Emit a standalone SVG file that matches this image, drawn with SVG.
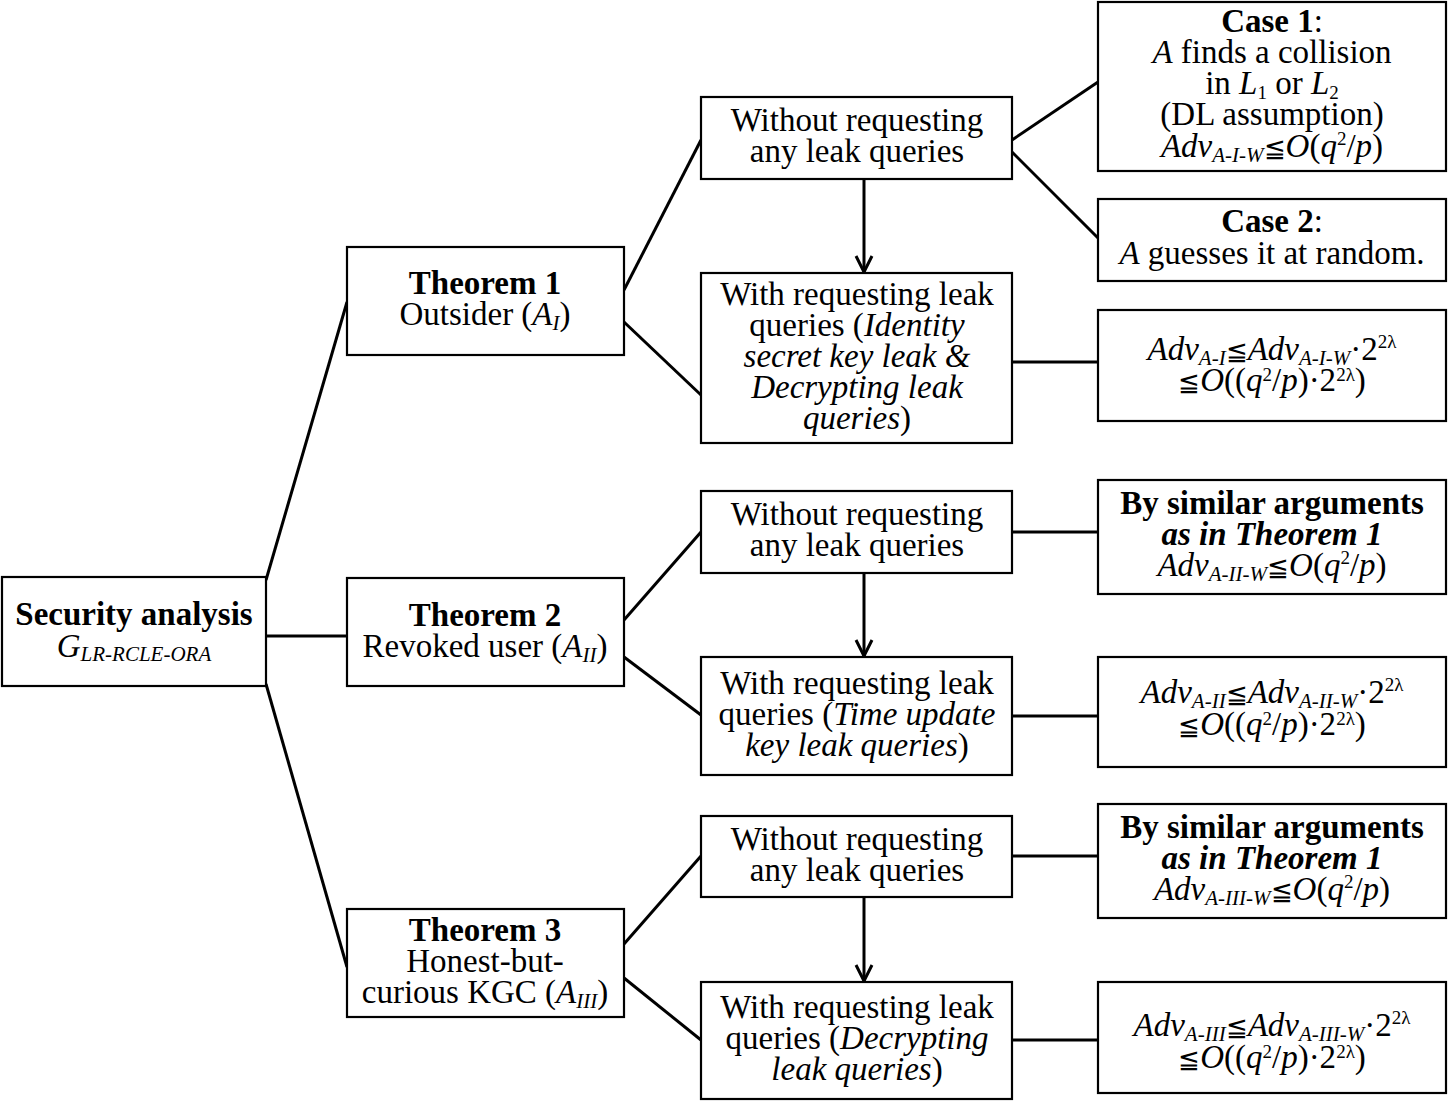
<svg xmlns="http://www.w3.org/2000/svg" width="1449" height="1101" viewBox="0 0 1449 1101">
<style>
.box{fill:#fff;stroke:#000;stroke-width:2.2}
.ln{stroke:#000;stroke-width:3;fill:none}
text{font-family:"Liberation Serif","Times New Roman",serif;font-size:33px;fill:#000;text-anchor:middle}
.b{font-weight:bold}
.i{font-style:italic}
.s{font-size:21px;font-style:italic}
.su{font-size:19px}
.m{font-family:"DejaVu Serif","Liberation Serif",serif;font-size:26px}
</style>
<defs>
<marker id="arr" markerUnits="userSpaceOnUse" markerWidth="22" markerHeight="22" viewBox="-19 -11 22 22" refX="0" refY="0" orient="auto">
<path d="M-16,-8 L0,0 L-16,8" fill="none" stroke="#000" stroke-width="3"/>
</marker>
</defs>
<rect width="1449" height="1101" fill="#fff"/>
<g id="connectors">
<line class="ln" x1="266" y1="580" x2="347" y2="302"/>
<line class="ln" x1="266" y1="636" x2="347" y2="636"/>
<line class="ln" x1="266" y1="684" x2="347" y2="967"/>
<line class="ln" x1="624" y1="290" x2="701" y2="140"/>
<line class="ln" x1="624" y1="322" x2="701" y2="395"/>
<line class="ln" x1="624" y1="620" x2="701" y2="532"/>
<line class="ln" x1="624" y1="657" x2="701" y2="715"/>
<line class="ln" x1="624" y1="944" x2="701" y2="856"/>
<line class="ln" x1="624" y1="978" x2="701" y2="1040"/>
<line class="ln" x1="1012" y1="140" x2="1098" y2="82"/>
<line class="ln" x1="1012" y1="152" x2="1098" y2="238"/>
<line class="ln" x1="1012" y1="362" x2="1098" y2="362"/>
<line class="ln" x1="1012" y1="532" x2="1098" y2="532"/>
<line class="ln" x1="1012" y1="716" x2="1098" y2="716"/>
<line class="ln" x1="1012" y1="856" x2="1098" y2="856"/>
<line class="ln" x1="1012" y1="1040" x2="1098" y2="1040"/>
<line class="ln" x1="864" y1="179" x2="864" y2="272" marker-end="url(#arr)"/>
<line class="ln" x1="864" y1="573" x2="864" y2="656" marker-end="url(#arr)"/>
<line class="ln" x1="864" y1="897" x2="864" y2="981" marker-end="url(#arr)"/>
</g>
<g id="root">
<rect class="box" x="2" y="577" width="264" height="109"/>
<text x="134" y="625" class="b">Security analysis</text>
<text x="134" y="657"><tspan class="i">G</tspan><tspan class="s" dy="4">LR-RCLE-ORA</tspan></text>
</g>
<g id="t1">
<rect class="box" x="347" y="247" width="277" height="108"/>
<text x="485" y="294" class="b">Theorem 1</text>
<text x="485" y="325">Outsider (<tspan class="i">A</tspan><tspan class="s" dy="5">I</tspan><tspan dy="-5">)</tspan></text>
</g>
<g id="t2">
<rect class="box" x="347" y="578" width="277" height="108"/>
<text x="485" y="626" class="b">Theorem 2</text>
<text x="485" y="657">Revoked user (<tspan class="i">A</tspan><tspan class="s" dy="5">II</tspan><tspan dy="-5">)</tspan></text>
</g>
<g id="t3">
<rect class="box" x="347" y="909" width="277" height="108"/>
<text x="485" y="941" class="b">Theorem 3</text>
<text x="485" y="972">Honest-but-</text>
<text x="485" y="1003">curious KGC (<tspan class="i">A</tspan><tspan class="s" dy="5">III</tspan><tspan dy="-5">)</tspan></text>
</g>
<g id="w1">
<rect class="box" x="701" y="97" width="311" height="82"/>
<text x="857" y="131">Without requesting</text>
<text x="857" y="162">any leak queries</text>
</g>
<g id="r1">
<rect class="box" x="701" y="273" width="311" height="170"/>
<text x="857" y="305">With requesting leak</text>
<text x="857" y="336">queries (<tspan class="i">Identity</tspan></text>
<text x="857" y="367" class="i">secret key leak &amp;</text>
<text x="857" y="398" class="i">Decrypting leak</text>
<text x="857" y="429"><tspan class="i">queries</tspan>)</text>
</g>
<g id="w2">
<rect class="box" x="701" y="491" width="311" height="82"/>
<text x="857" y="525">Without requesting</text>
<text x="857" y="556">any leak queries</text>
</g>
<g id="r2">
<rect class="box" x="701" y="657" width="311" height="118"/>
<text x="857" y="694">With requesting leak</text>
<text x="857" y="725">queries (<tspan class="i">Time update</tspan></text>
<text x="857" y="756"><tspan class="i">key leak queries</tspan>)</text>
</g>
<g id="w3">
<rect class="box" x="701" y="816" width="311" height="81"/>
<text x="857" y="850">Without requesting</text>
<text x="857" y="881">any leak queries</text>
</g>
<g id="r3">
<rect class="box" x="701" y="982" width="311" height="117"/>
<text x="857" y="1018">With requesting leak</text>
<text x="857" y="1049">queries (<tspan class="i">Decrypting</tspan></text>
<text x="857" y="1080"><tspan class="i">leak queries</tspan>)</text>
</g>
<g id="case1">
<rect class="box" x="1098" y="2" width="348" height="169"/>
<text x="1272" y="32"><tspan class="b">Case 1</tspan>:</text>
<text x="1272" y="63"><tspan class="i">A</tspan> finds a collision</text>
<text x="1272" y="94">in <tspan class="i">L</tspan><tspan class="su" dy="5">1</tspan><tspan dy="-5"> or </tspan><tspan class="i">L</tspan><tspan class="su" dy="5">2</tspan></text>
<text x="1272" y="125">(DL assumption)</text>
<text x="1272" y="157"><tspan class="i">Adv</tspan><tspan class="s" dy="5">A-I-W</tspan><tspan class="m" dy="-5">≦</tspan><tspan class="i">O</tspan>(<tspan class="i">q</tspan><tspan class="su" dy="-12">2</tspan><tspan dy="12">/</tspan><tspan class="i">p</tspan>)</text>
</g>
<g id="case2">
<rect class="box" x="1098" y="199" width="348" height="82"/>
<text x="1272" y="232"><tspan class="b">Case 2</tspan>:</text>
<text x="1272" y="264"><tspan class="i">A</tspan> guesses it at random.</text>
</g>
<g id="f1">
<rect class="box" x="1098" y="310" width="348" height="111"/>
<text x="1272" y="360"><tspan class="i">Adv</tspan><tspan class="s" dy="5">A-I</tspan><tspan class="m" dy="-5">≦</tspan><tspan class="i">Adv</tspan><tspan class="s" dy="5">A-I-W</tspan><tspan dy="-5">·2</tspan><tspan class="su" dy="-12">2λ</tspan></text>
<text x="1272" y="391"><tspan class="m">≦</tspan><tspan class="i">O</tspan>((<tspan class="i">q</tspan><tspan class="su" dy="-10">2</tspan><tspan dy="10">/</tspan><tspan class="i">p</tspan>)·2<tspan class="su" dy="-10">2λ</tspan><tspan dy="10">)</tspan></text>
</g>
<g id="s1">
<rect class="box" x="1098" y="480" width="348" height="114"/>
<text x="1272" y="514" class="b">By similar arguments</text>
<text x="1272" y="545" class="b i">as in Theorem 1</text>
<text x="1272" y="576"><tspan class="i">Adv</tspan><tspan class="s" dy="5">A-II-W</tspan><tspan class="m" dy="-5">≦</tspan><tspan class="i">O</tspan>(<tspan class="i">q</tspan><tspan class="su" dy="-12">2</tspan><tspan dy="12">/</tspan><tspan class="i">p</tspan>)</text>
</g>
<g id="f2">
<rect class="box" x="1098" y="657" width="348" height="110"/>
<text x="1272" y="703"><tspan class="i">Adv</tspan><tspan class="s" dy="5">A-II</tspan><tspan class="m" dy="-5">≦</tspan><tspan class="i">Adv</tspan><tspan class="s" dy="5">A-II-W</tspan><tspan dy="-5">·2</tspan><tspan class="su" dy="-12">2λ</tspan></text>
<text x="1272" y="735"><tspan class="m">≦</tspan><tspan class="i">O</tspan>((<tspan class="i">q</tspan><tspan class="su" dy="-10">2</tspan><tspan dy="10">/</tspan><tspan class="i">p</tspan>)·2<tspan class="su" dy="-10">2λ</tspan><tspan dy="10">)</tspan></text>
</g>
<g id="s2">
<rect class="box" x="1098" y="804" width="348" height="114"/>
<text x="1272" y="838" class="b">By similar arguments</text>
<text x="1272" y="869" class="b i">as in Theorem 1</text>
<text x="1272" y="900"><tspan class="i">Adv</tspan><tspan class="s" dy="5">A-III-W</tspan><tspan class="m" dy="-5">≦</tspan><tspan class="i">O</tspan>(<tspan class="i">q</tspan><tspan class="su" dy="-12">2</tspan><tspan dy="12">/</tspan><tspan class="i">p</tspan>)</text>
</g>
<g id="f3">
<rect class="box" x="1098" y="982" width="348" height="111"/>
<text x="1272" y="1036"><tspan class="i">Adv</tspan><tspan class="s" dy="5">A-III</tspan><tspan class="m" dy="-5">≦</tspan><tspan class="i">Adv</tspan><tspan class="s" dy="5">A-III-W</tspan><tspan dy="-5">·2</tspan><tspan class="su" dy="-12">2λ</tspan></text>
<text x="1272" y="1068"><tspan class="m">≦</tspan><tspan class="i">O</tspan>((<tspan class="i">q</tspan><tspan class="su" dy="-10">2</tspan><tspan dy="10">/</tspan><tspan class="i">p</tspan>)·2<tspan class="su" dy="-10">2λ</tspan><tspan dy="10">)</tspan></text>
</g>
</svg>
